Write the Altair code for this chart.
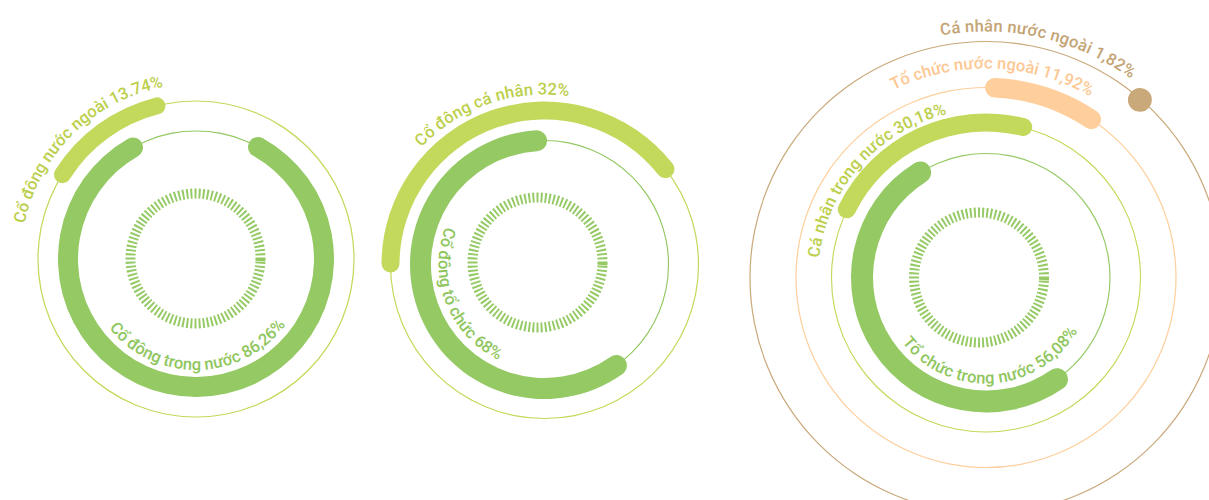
import unicodedata
import altair as alt
import pandas as pd

W_PX, H_PX = 1209, 500

# ---------------- data ----------------
seg_chart = [1, 1, 2, 2, 3, 3, 3, 3]
seg_name = ["Cổ đông trong nước", "Cổ đông nước ngoài",
            "Cổ đông tổ chức", "Cổ đông cá nhân",
            "Tổ chức trong nước", "Cá nhân trong nước",
            "Tổ chức nước ngoài", "Cá nhân nước ngoài"]
seg_pct = ["86,26%", "13.74%", "68%", "32%", "56,08%", "30,18%", "11,92%", "1,82%"]
# arc extent as drawn, degrees clockwise from 12 o'clock
seg_start = [24.5, 299.2, 139.7, -93.0, 140.0, -67.2, -0.3, 38.0]
seg_end = [335.0, 348.8, 361.2, 55.1, 333.0, 17.2, 36.6, 43.8]

# ---------------- layout / style ----------------
DARK = "#94c963"
LIGHT = "#c3d95b"
PEACH = "#fecf9c"
TAN = "#c9a87a"
DARK_T = "#8fc65e"
LIGHT_T = "#bccf4c"
PEACH_T = "#fdc893"
TAN_T = "#c4a475"

centre = {1: (196, 259), 2: (544.5, 264.5), 3: (986, 277.5)}
tick_centre = {1: (195.5, 258.5), 2: (537.5, 262.5), 3: (979, 277.5)}

# ring radius, thickness, colour, text colour, label side, label radius, first/last glyph angle
seg_style = [
    dict(r=128, w=20, c=DARK, tc=DARK_T, side="in", lr=106, a0=228.8, a1=129.4),
    dict(r=158, w=17, c=LIGHT, tc=LIGHT_T, side="out", lr=180, a0=283.4, a1=347.3),
    dict(r=124, w=21, c=DARK, tc=DARK_T, side="in", lr=101, a0=288.0, a1=209.0),
    dict(r=154, w=18, c=LIGHT, tc=LIGHT_T, side="out", lr=175, a0=315.4, a1=366.2),
    dict(r=124, w=22, c=DARK, tc=DARK_T, side="in", lr=101, a0=229.7, a1=123.6),
    dict(r=155, w=18, c=LIGHT, tc=LIGHT_T, side="out", lr=173, a0=278.5, a1=344.5),
    dict(r=190, w=19.5, c=PEACH, tc=PEACH_T, side="out", lr=214, a0=335.1, a1=388.2),
    dict(r=235, w=24, c=TAN, tc=TAN_T, side="out", lr=251, a0=350.7, a1=394.7),
]
thin_rings = [(1, 128, DARK), (1, 158, LIGHT), (2, 124, DARK), (2, 154, LIGHT),
              (3, 124, DARK), (3, 154.5, LIGHT), (3, 190, PEACH), (3, 236, TAN)]
N_TICKS = 100
TICK_R0, TICK_R1 = 60, 70
TICK_HALF = 0.85
FONT = "Roboto"
FONT_SIZE = 16.5

# ---------------- tables ----------------
arc_rows = []
for ch, s, e, st in zip(seg_chart, seg_start, seg_end, seg_style):
    cx, cy = centre[ch]
    arc_rows.append(dict(cx=cx, cy=cy, t0=s, t1=e, r0=st["r"] - st["w"] / 2,
                         r1=st["r"] + st["w"] / 2, col=st["c"]))
arcs_df = pd.DataFrame(arc_rows)

ring_rows = []
for ch, r, col in thin_rings:
    cx, cy = centre[ch]
    ring_rows.append(dict(cx=cx, cy=cy, t0=0, t1=360, r0=r - 0.6, r1=r + 0.6, col=col))
rings_df = pd.DataFrame(ring_rows)

tick_rows = []
for ch in [1, 2, 3]:
    cx, cy = tick_centre[ch]
    angles = [i * 360 / N_TICKS for i in range(N_TICKS)] + [91.3]
    for a in angles:
        tick_rows.append(dict(cx=cx, cy=cy, t0=a - TICK_HALF, t1=a + TICK_HALF,
                              r0=TICK_R0, r1=TICK_R1, col=DARK))
ticks_df = pd.DataFrame(tick_rows)

ADV = {" ": 0.25, ",": 0.21, ".": 0.26, "%": 0.73, "a": 0.54, "c": 0.52, "d": 0.56,
       "đ": 0.57, "g": 0.56, "h": 0.55, "i": 0.24, "n": 0.55, "o": 0.57, "r": 0.34,
       "t": 0.33, "u": 0.55, "C": 0.65, "T": 0.60}


def advance(c):
    if c in ADV:
        return ADV[c]
    if c.isdigit():
        return 0.56
    base = unicodedata.normalize("NFD", c)
    w = ADV.get(base[0], 0.55)
    if "\u031b" in base:
        w += 0.05
    return w


text_rows = []
for ch, name, pct, st in zip(seg_chart, seg_name, seg_pct, seg_style):
    cx, cy = centre[ch]
    label = name + " " + pct
    widths = [advance(c) for c in label]
    centres = []
    acc = 0.0
    for w in widths:
        centres.append(acc + w / 2)
        acc += w
    first, last = centres[0], centres[-1]
    for c, pos in zip(label, centres):
        if c == " ":
            continue
        t = st["a0"] + (st["a1"] - st["a0"]) * (pos - first) / (last - first)
        ang = t if st["side"] == "out" else t - 180
        text_rows.append(dict(cx=cx, cy=cy, t=t, r=st["lr"], ang=ang % 360,
                              ch=c, col=st["tc"]))
text_df = pd.DataFrame(text_rows)

# ---------------- chart ----------------
xs = alt.Scale(domain=[0, W_PX], range=[0, W_PX])
ys = alt.Scale(domain=[0, H_PX], range=[0, H_PX])
ts = alt.Scale(domain=[0, 360], range=[0, 6.283185307179586])
rs = alt.Scale(type="linear", domain=[0, 300], range=[0, 300])


def arc_layer(df, **mk):
    return alt.Chart(df).mark_arc(**mk).encode(
        x=alt.X("cx:Q", scale=xs, axis=None),
        y=alt.Y("cy:Q", scale=ys, axis=None),
        theta=alt.Theta("t0:Q", scale=ts, stack=None),
        theta2="t1:Q",
        radius=alt.Radius("r0:Q", scale=rs),
        radius2="r1:Q",
        color=alt.Color("col:N", scale=None),
    )


rings = arc_layer(rings_df)
ticks = arc_layer(ticks_df)
arcs = arc_layer(arcs_df, cornerRadius=30)

texts = alt.Chart(text_df).mark_text(
    font=FONT, fontSize=FONT_SIZE, fontWeight=500, align="center", baseline="middle",
).encode(
    x=alt.X("cx:Q", scale=xs, axis=None),
    y=alt.Y("cy:Q", scale=ys, axis=None),
    theta=alt.Theta("t:Q", scale=ts, stack=None),
    radius=alt.Radius("r:Q", scale=rs),
    angle=alt.Angle("ang:Q", scale=None),
    text="ch:N",
    color=alt.Color("col:N", scale=None),
)

chart = alt.layer(rings, ticks, arcs, texts).properties(
    width=W_PX, height=H_PX, padding=0,
    autosize=alt.AutoSizeParams(type="none"),
    background="white",
).configure_view(stroke=None)

chart.save("out.html", embed_options={"renderer": "svg", "actions": False})
